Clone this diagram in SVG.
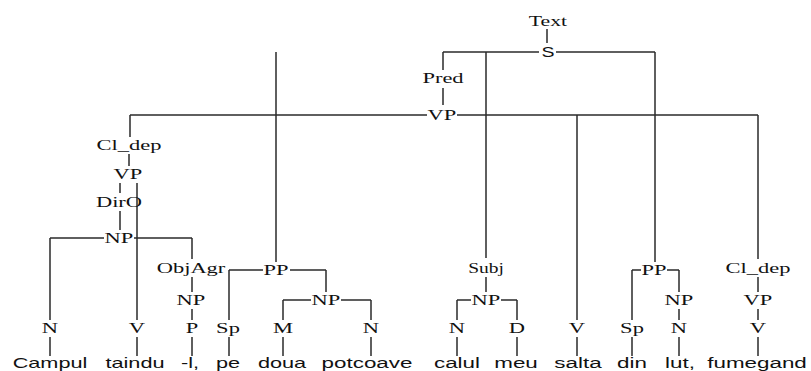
<svg xmlns="http://www.w3.org/2000/svg" width="811" height="371" viewBox="0 0 811 371">
<style>
.lab{font-family:"Liberation Serif","Times New Roman",serif;font-size:15px;fill:#111;text-anchor:middle}
.san{font-family:"Liberation Sans",Arial,sans-serif;font-size:15px;fill:#111;text-anchor:middle}
.wrd{font-family:"Liberation Sans",Arial,sans-serif;font-size:14px;fill:#111;text-anchor:middle}
.c line{stroke:#2a2a2a;stroke-width:1.5;fill:none}
</style>
<rect width="811" height="371" fill="#fff"/>
<g id="connectors" class="c">
<line x1="547" y1="29" x2="547" y2="43"/>
<line x1="443" y1="52" x2="539" y2="52"/>
<line x1="556" y1="52" x2="655" y2="52"/>
<line x1="443" y1="52" x2="443" y2="70"/>
<line x1="443" y1="88" x2="443" y2="105"/>
<line x1="130" y1="115" x2="427" y2="115"/>
<line x1="457" y1="115" x2="758" y2="115"/>
<line x1="276" y1="52" x2="276" y2="262"/>
<line x1="486" y1="52" x2="486" y2="258"/>
<line x1="577" y1="115" x2="577" y2="320"/>
<line x1="655" y1="52" x2="655" y2="262"/>
<line x1="758" y1="115" x2="758" y2="259"/>
<line x1="130" y1="115" x2="130" y2="137"/>
<line x1="129" y1="154" x2="129" y2="166"/>
<line x1="120" y1="183" x2="120" y2="193"/>
<line x1="137" y1="183" x2="137" y2="320"/>
<line x1="120" y1="211" x2="120" y2="230"/>
<line x1="50" y1="238" x2="104" y2="238"/>
<line x1="134" y1="238" x2="192" y2="238"/>
<line x1="50" y1="238" x2="50" y2="320"/>
<line x1="192" y1="238" x2="192" y2="259"/>
<line x1="192" y1="277" x2="192" y2="292"/>
<line x1="192" y1="309" x2="192" y2="320"/>
<line x1="229" y1="270" x2="263" y2="270"/>
<line x1="290" y1="270" x2="326" y2="270"/>
<line x1="229" y1="270" x2="229" y2="320"/>
<line x1="326" y1="270" x2="326" y2="292"/>
<line x1="283" y1="300" x2="311" y2="300"/>
<line x1="341" y1="300" x2="371" y2="300"/>
<line x1="283" y1="300" x2="283" y2="320"/>
<line x1="371" y1="300" x2="371" y2="320"/>
<line x1="486" y1="277" x2="486" y2="292"/>
<line x1="457" y1="300" x2="471" y2="300"/>
<line x1="501" y1="300" x2="517" y2="300"/>
<line x1="457" y1="300" x2="457" y2="320"/>
<line x1="517" y1="300" x2="517" y2="320"/>
<line x1="632" y1="270" x2="641" y2="270"/>
<line x1="667" y1="270" x2="679" y2="270"/>
<line x1="632" y1="270" x2="632" y2="320"/>
<line x1="679" y1="270" x2="679" y2="292"/>
<line x1="679" y1="309" x2="679" y2="320"/>
<line x1="758" y1="277" x2="758" y2="292"/>
<line x1="758" y1="309" x2="758" y2="320"/>
<line x1="50" y1="337" x2="50" y2="356"/>
<line x1="137" y1="337" x2="137" y2="356"/>
<line x1="192" y1="337" x2="192" y2="356"/>
<line x1="229" y1="337" x2="229" y2="356"/>
<line x1="283" y1="337" x2="283" y2="356"/>
<line x1="371" y1="337" x2="371" y2="356"/>
<line x1="457" y1="337" x2="457" y2="356"/>
<line x1="517" y1="337" x2="517" y2="356"/>
<line x1="577" y1="337" x2="577" y2="356"/>
<line x1="632" y1="337" x2="632" y2="356"/>
<line x1="679" y1="337" x2="679" y2="356"/>
<line x1="758" y1="337" x2="758" y2="356"/>
</g>
<g id="n-text"><text class="lab" transform="translate(548,26) scale(1.45,1)">Text</text></g>
<g id="n-s"><text class="san" transform="translate(548,57) scale(1.3,1)">S</text></g>
<g id="n-pred"><text class="lab" transform="translate(443,83) scale(1.5,1)">Pred</text></g>
<g id="n-vp"><text class="lab" transform="translate(442,120) scale(1.5,1)">VP</text></g>
<g id="n-cldep1"><text class="lab" transform="translate(129,150) scale(1.5,1)">Cl_dep</text></g>
<g id="n-vp1"><text class="lab" transform="translate(128,179) scale(1.5,1)">VP</text></g>
<g id="n-diro"><text class="lab" transform="translate(119,207) scale(1.5,1)">DirO</text></g>
<g id="n-np1"><text class="lab" transform="translate(119,243) scale(1.5,1)">NP</text></g>
<g id="n-objagr"><text class="lab" transform="translate(191,273) scale(1.5,1)">ObjAgr</text></g>
<g id="n-np2"><text class="lab" transform="translate(191,305) scale(1.5,1)">NP</text></g>
<g id="n-pp1"><text class="lab" transform="translate(276,275) scale(1.5,1)">PP</text></g>
<g id="n-np3"><text class="lab" transform="translate(326,305) scale(1.5,1)">NP</text></g>
<g id="n-subj"><text class="lab" transform="translate(486,273) scale(1.3,1)">Subj</text></g>
<g id="n-np4"><text class="lab" transform="translate(486,305) scale(1.5,1)">NP</text></g>
<g id="n-pp2"><text class="lab" transform="translate(654,275) scale(1.5,1)">PP</text></g>
<g id="n-np5"><text class="lab" transform="translate(679,305) scale(1.5,1)">NP</text></g>
<g id="n-cldep2"><text class="lab" transform="translate(758,273) scale(1.5,1)">Cl_dep</text></g>
<g id="n-vp2"><text class="lab" transform="translate(758,305) scale(1.5,1)">VP</text></g>
<g id="n-t1"><text class="lab" transform="translate(50,333) scale(1.5,1)">N</text></g>
<g id="n-t2"><text class="lab" transform="translate(137,333) scale(1.5,1)">V</text></g>
<g id="n-t3"><text class="lab" transform="translate(192,333) scale(1.5,1)">P</text></g>
<g id="n-t4"><text class="lab" transform="translate(228,333) scale(1.5,1)">Sp</text></g>
<g id="n-t5"><text class="lab" transform="translate(283,333) scale(1.5,1)">M</text></g>
<g id="n-t6"><text class="lab" transform="translate(371,333) scale(1.5,1)">N</text></g>
<g id="n-t7"><text class="lab" transform="translate(457,333) scale(1.5,1)">N</text></g>
<g id="n-t8"><text class="lab" transform="translate(517,333) scale(1.5,1)">D</text></g>
<g id="n-t9"><text class="lab" transform="translate(577,333) scale(1.5,1)">V</text></g>
<g id="n-t10"><text class="lab" transform="translate(632,333) scale(1.5,1)">Sp</text></g>
<g id="n-t11"><text class="lab" transform="translate(679,333) scale(1.5,1)">N</text></g>
<g id="n-t12"><text class="lab" transform="translate(758,333) scale(1.5,1)">V</text></g>
<g id="n-w1"><text class="wrd" transform="translate(50,368) scale(1.55,1)">Campul</text></g>
<g id="n-w2"><text class="wrd" transform="translate(135,368) scale(1.55,1)">taindu</text></g>
<g id="n-w3"><text class="wrd" transform="translate(190,368) scale(1.55,1)">-l,</text></g>
<g id="n-w4"><text class="wrd" transform="translate(228,368) scale(1.55,1)">pe</text></g>
<g id="n-w5"><text class="wrd" transform="translate(282,368) scale(1.55,1)">doua</text></g>
<g id="n-w6"><text class="wrd" transform="translate(367,368) scale(1.6,1)">potcoave</text></g>
<g id="n-w7"><text class="wrd" transform="translate(457,368) scale(1.6,1)">calul</text></g>
<g id="n-w8"><text class="wrd" transform="translate(516,368) scale(1.6,1)">meu</text></g>
<g id="n-w9"><text class="wrd" transform="translate(578,368) scale(1.6,1)">salta</text></g>
<g id="n-w10"><text class="wrd" transform="translate(632,368) scale(1.6,1)">din</text></g>
<g id="n-w11"><text class="wrd" transform="translate(680,368) scale(1.6,1)">lut,</text></g>
<g id="n-w12"><text class="wrd" transform="translate(757,368) scale(1.6,1)">fumegand</text></g>
</svg>
